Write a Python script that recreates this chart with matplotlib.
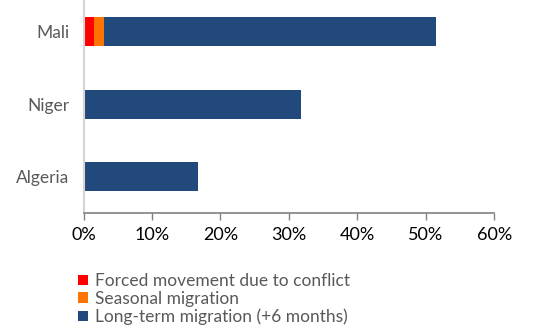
import matplotlib
matplotlib.use("Agg")
import matplotlib.pyplot as plt
from matplotlib.patches import Patch

# data (percent)
countries = ['Algeria', 'Niger', 'Mali']
forced = [0.0, 0.0, 1.5]
seasonal = [0.0, 0.0, 1.55]
long_term = [16.7, 31.8, 48.45]
series_names = ['Forced movement due to conflict', 'Seasonal migration',
                'Long-term migration (+6 months)']
colors = ['#ff0000', '#ff7300', '#22497c']
xticks = [0, 10, 20, 30, 40, 50, 60]

plt.rcParams['font.family'] = ['Lato', 'DejaVu Sans']

fig = plt.figure(figsize=(5.47, 3.35), dpi=100)
ax = fig.add_axes([0.1527, 0.3633, 0.751, 0.6367])

y = list(range(len(countries)))
left2 = [a + b for a, b in zip(forced, seasonal)]
ax.barh(y, forced, height=0.4, color=colors[0])
ax.barh(y, seasonal, left=forced, height=0.4, color=colors[1])
ax.barh(y, long_term, left=left2, height=0.4, color=colors[2])

ax.set_xlim(0, 60)
ax.set_ylim(-0.5, 2.43)
ax.set_xticks(xticks)
ax.set_xticklabels([f'{t}%' for t in xticks], fontsize=13, color='black')
ax.set_yticks(y)
ax.set_yticklabels(countries, fontsize=12.5, color='#595959')
ax.tick_params(axis='y', length=0, pad=10)
ax.tick_params(axis='x', length=5, width=1, color='#808080', pad=5)

for s in ['top', 'right']:
    ax.spines[s].set_visible(False)
ax.spines['bottom'].set_color('#808080')
ax.spines['bottom'].set_linewidth(1.2)
ax.spines['left'].set_color('#d4d4d4')
ax.spines['left'].set_linewidth(1.5)

handles = [Patch(facecolor=c, label=n) for c, n in zip(colors, series_names)]
leg = fig.legend(handles=handles, loc='upper left', bbox_to_anchor=(0.143, 0.185),
                 frameon=False, fontsize=12.5, handlelength=0.55, handleheight=0.55,
                 handletextpad=0.4, labelspacing=0.1, borderpad=0, borderaxespad=0)
for t in leg.get_texts():
    t.set_color('#595959')

fig.savefig('out.png', dpi=100)
